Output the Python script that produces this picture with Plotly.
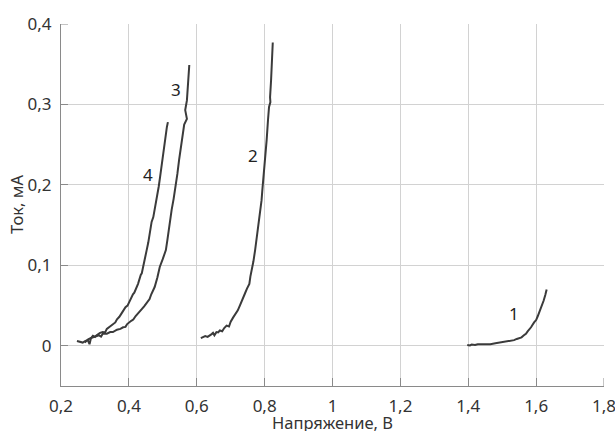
import plotly.graph_objects as go

# Current–voltage curves, one per sample (voltage in V, current in mA)
v1 = [1.397, 1.405, 1.41, 1.42, 1.428, 1.436, 1.45, 1.458, 1.465, 1.48, 1.488, 1.495, 1.51,
      1.518, 1.525, 1.535, 1.543, 1.55, 1.557, 1.564, 1.57, 1.575, 1.585, 1.594, 1.6, 1.605,
      1.614, 1.618, 1.622, 1.627, 1.631]
i1 = [0.001, 0.0005, 0.0015, 0.001, 0.002, 0.002, 0.0025, 0.0018, 0.002, 0.003, 0.0035, 0.004,
      0.005, 0.0055, 0.0065, 0.007, 0.0085, 0.0095, 0.0105, 0.013, 0.015, 0.018, 0.023, 0.029,
      0.032, 0.037, 0.046, 0.050, 0.056, 0.063, 0.070]

v2 = [0.612, 0.620, 0.625, 0.632, 0.639, 0.644, 0.648, 0.652, 0.658, 0.663, 0.668, 0.675,
      0.681, 0.688, 0.695, 0.700, 0.707, 0.715, 0.721, 0.727, 0.735, 0.742, 0.748, 0.755,
      0.758, 0.762, 0.767, 0.772, 0.776, 0.781, 0.786, 0.791, 0.793, 0.798, 0.802, 0.806,
      0.810, 0.813, 0.817, 0.816, 0.819, 0.821, 0.824]
i2 = [0.0096, 0.0115, 0.012, 0.011, 0.0125, 0.0145, 0.016, 0.013, 0.017, 0.0165, 0.019, 0.018,
      0.022, 0.025, 0.024, 0.030, 0.035, 0.040, 0.044, 0.050, 0.057, 0.065, 0.071, 0.077,
      0.086, 0.094, 0.105, 0.119, 0.131, 0.148, 0.163, 0.181, 0.192, 0.215, 0.235, 0.256,
      0.281, 0.297, 0.303, 0.309, 0.330, 0.352, 0.377]

v3 = [0.270, 0.280, 0.290, 0.300, 0.312, 0.318, 0.323, 0.335, 0.345, 0.353, 0.360, 0.365,
      0.375, 0.383, 0.390, 0.395, 0.407, 0.413, 0.420, 0.432, 0.438, 0.445, 0.456, 0.461,
      0.466, 0.476, 0.484, 0.488, 0.491, 0.500, 0.505, 0.509, 0.513, 0.516, 0.521, 0.526,
      0.532, 0.538, 0.543, 0.548, 0.552, 0.555, 0.558, 0.563, 0.571, 0.566, 0.571, 0.574,
      0.576, 0.578]
i3 = [0.004, 0.008, 0.010, 0.011, 0.013, 0.0115, 0.015, 0.015, 0.017, 0.017, 0.019, 0.020,
      0.021, 0.023, 0.0235, 0.027, 0.031, 0.0325, 0.037, 0.042, 0.0455, 0.049, 0.056, 0.058,
      0.064, 0.073, 0.085, 0.091, 0.098, 0.108, 0.115, 0.119, 0.130, 0.140, 0.155, 0.169,
      0.183, 0.198, 0.214, 0.231, 0.244, 0.256, 0.262, 0.275, 0.282, 0.293, 0.305, 0.320,
      0.335, 0.349]

v4 = [0.247, 0.255, 0.264, 0.272, 0.279, 0.284, 0.288, 0.294, 0.300, 0.305, 0.315, 0.323,
      0.330, 0.335, 0.345, 0.353, 0.360, 0.365, 0.372, 0.378, 0.390, 0.396, 0.402, 0.412,
      0.416, 0.420, 0.427, 0.435, 0.438, 0.441, 0.447, 0.452, 0.457, 0.461, 0.467, 0.472,
      0.476, 0.481, 0.488, 0.492, 0.496, 0.500, 0.506, 0.507, 0.509, 0.512, 0.515]
i4 = [0.006, 0.005, 0.004, 0.006, 0.007, 0.002, 0.009, 0.0125, 0.011, 0.013, 0.016, 0.017,
      0.0165, 0.021, 0.024, 0.027, 0.029, 0.033, 0.036, 0.040, 0.048, 0.050, 0.056, 0.064,
      0.066, 0.070, 0.077, 0.088, 0.090, 0.096, 0.106, 0.118, 0.128, 0.140, 0.154, 0.160,
      0.169, 0.182, 0.198, 0.210, 0.223, 0.236, 0.252, 0.262, 0.265, 0.272, 0.278]

# Curve numbers and where they are written
curve_labels = ["1", "2", "3", "4"]
label_x = [1.534, 0.765, 0.538, 0.456]
label_y = [0.040, 0.237, 0.318, 0.2125]

x_ticks = [0.2, 0.4, 0.6, 0.8, 1.0, 1.2, 1.4, 1.6, 1.8]
x_tick_text = ["0,2", "0,4", "0,6", "0,8", "1", "1,2", "1,4", "1,6", "1,8"]
y_ticks = [0, 0.1, 0.2, 0.3, 0.4]
y_tick_text = ["0", "0,1", "0,2", "0,3", "0,4"]

x_title = "Напряжение, В"
y_title = "Ток, мА"

x_range = [0.2, 1.8]
y_range = [-0.05, 0.4]

LINE = "#3b3b3b"
AXIS = "#8a8a8a"
GRID = "#d2d2d2"
TEXT = "#333333"
FONT = "Noto Sans"

fig = go.Figure()
for vx, iy in [(v1, i1), (v2, i2), (v3, i3), (v4, i4)]:
    fig.add_trace(go.Scatter(x=vx, y=iy, mode="lines",
                             line=dict(color=LINE, width=2), showlegend=False,
                             hoverinfo="skip"))

for txt, lx, ly in zip(curve_labels, label_x, label_y):
    fig.add_annotation(x=lx, y=ly, text=txt, showarrow=False,
                       font=dict(family=FONT, size=17, color="#222222"))

# Axis titles placed as annotations so they can sit close to the page edges
fig.add_annotation(x=0.5, y=0, xref="paper", yref="paper", xanchor="center", yanchor="top",
                   yshift=-23, text=x_title, showarrow=False,
                   font=dict(family=FONT, size=16.5, color=TEXT))
fig.add_annotation(x=0, y=0.5, xref="paper", yref="paper", xanchor="center", yanchor="middle",
                   xshift=-45, text=y_title, textangle=-90, showarrow=False,
                   font=dict(family=FONT, size=16.5, color=TEXT))

# Inside ticks at the far ends of the axes (plotly clips end ticks)
fig.add_shape(type="line", xref="x", yref="y", xsizemode="pixel", xanchor=x_range[0],
              x0=0, x1=7, y0=y_ticks[-1], y1=y_ticks[-1], line=dict(color=AXIS, width=1))
fig.add_shape(type="line", xref="x", yref="y", ysizemode="pixel", yanchor=y_range[0],
              y0=0, y1=8, x0=x_ticks[-1], x1=x_ticks[-1], line=dict(color=AXIS, width=1))

fig.update_layout(
    width=615, height=431,
    margin=dict(l=61, r=11, t=24, b=45, autoexpand=False),
    paper_bgcolor="white", plot_bgcolor="white",
    font=dict(family=FONT, color=TEXT),
    xaxis=dict(
        range=x_range, tickvals=x_ticks, ticktext=x_tick_text,
        ticks="inside", ticklen=8, tickcolor=AXIS, tickwidth=1,
        showline=True, linecolor=AXIS, linewidth=1,
        showgrid=True, gridcolor=GRID, gridwidth=1, zeroline=False,
        tickfont=dict(family=FONT, size=17, color=TEXT),
        ticklabelstandoff=5, ticklabeloverflow="allow", automargin=False,
    ),
    yaxis=dict(
        range=y_range, tickvals=y_ticks, ticktext=y_tick_text,
        ticks="inside", ticklen=7, tickcolor=AXIS, tickwidth=1,
        showline=True, linecolor=AXIS, linewidth=1,
        showgrid=True, gridcolor=GRID, gridwidth=1, zeroline=False,
        tickfont=dict(family=FONT, size=17, color=TEXT),
        ticklabelstandoff=5, automargin=False,
    ),
)

fig.write_html("out.html")
